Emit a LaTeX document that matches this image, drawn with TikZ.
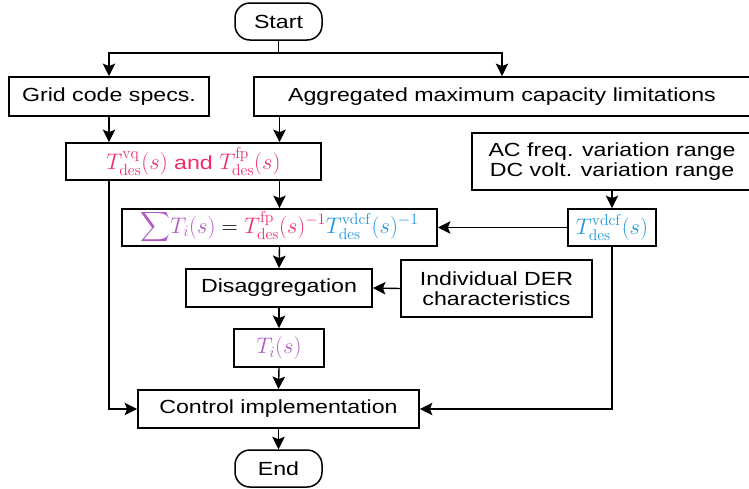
\RequirePackage{fix-cm}
\documentclass[tikz,border=0pt]{standalone}
\usepackage{exscale}
\usepackage[no-math]{fontspec}
\usepackage{graphicx}
\setmainfont{Liberation Sans}
\usetikzlibrary{arrows.meta}
\definecolor{pinkc}{RGB}{240,45,105}
\definecolor{purpc}{RGB}{176,90,200}
\definecolor{bluec}{RGB}{30,150,222}
% labels are set slightly wide; formulas keep their own proportions
\newcommand{\wide}[1]{\scalebox{1.22}[1]{#1}}
\newcommand{\fm}[1]{{\fontsize{22.5}{26}\selectfont$#1$}}
\newcommand{\dsub}{\mathrm{des}}
\tikzset{
  box/.style={draw, line width=1.8pt, inner sep=0pt, align=center,
    font=\fontsize{19}{23}\selectfont},
  term/.style={box, line width=1.5pt, rounded corners=15pt},
  arr/.style={line width=1.4pt, -{Stealth[length=12.5pt,width=12.5pt,inset=2.5pt]}},
  ln/.style={line width=1.4pt}
}
\begin{document}
\begin{tikzpicture}[x=1pt, y=-1pt]
\useasboundingbox (0,0) rectangle (749,488);
\clip (0,0) rectangle (749,488);

\node[term, minimum width=87pt, minimum height=37pt] (start) at (278.5,21.5) {\wide{Start}};
\node[box, minimum width=200pt, minimum height=39pt] (grid) at (109,96.5) {\wide{Grid code specs.}};
\node[box, minimum width=496pt, minimum height=39pt] (agg) at (502,96.5) {\wide{Aggregated maximum capacity limitations}};
\node[box, minimum width=255pt, minimum height=37pt, text=pinkc] (tdes) at (193.5,161.5)
  {\fm{T^{\mathrm{vq}}_{\dsub}(s)}\wide{ and }\fm{T^{\mathrm{fp}}_{\dsub}(s)}};
\node[box, minimum width=280pt, minimum height=57pt] (ac) at (612,161.5)
  {\wide{AC freq. variation range}\\[-3pt]\wide{DC volt. variation range}};
\node[box, minimum width=315pt, minimum height=37pt] (sum) at (279.5,227.5)
  {\fm{{\color{purpc}{\displaystyle\sum} T_i(s)} = {\color{pinkc}T^{\mathrm{fp}}_{\dsub}(s)^{-1}}{\color{bluec}T^{\mathrm{vdcf}}_{\dsub}(s)^{-1}}}};
\node[box, minimum width=88pt, minimum height=37pt, text=bluec] (tvdcf) at (612,227.5)
  {\fm{T^{\mathrm{vdcf}}_{\dsub}(s)}};
\node[box, minimum width=186pt, minimum height=38pt] (disagg) at (279,288) {\wide{Disaggregation}};
\node[box, minimum width=191pt, minimum height=57pt] (der) at (496.5,288.5)
  {\wide{Individual DER}\\[-3pt]\wide{characteristics}};
\node[box, minimum width=90pt, minimum height=38pt, text=purpc] (ti) at (279,348) {\fm{T_i(s)}};
\node[box, minimum width=281pt, minimum height=38pt] (ctrl) at (278.5,409) {\wide{Control implementation}};
\node[term, minimum width=87pt, minimum height=37pt] (end) at (278.5,468.5) {\wide{End}};

% split below the start terminal
\coordinate (split) at (278.5,53);
\draw[ln] (start.south) -- (split);
\draw[arr] (split) -| (grid.north);
\draw[arr] (split) -| (agg.north);

\draw[arr] (grid.south) -- (grid.south |- tdes.north);
\draw[arr] (agg.south -| sum.north) -- (tdes.north -| sum.north);
\draw[arr] (tdes.south -| sum.north) -- (sum.north);
\draw[arr] (tdes.south -| grid.south) |- (ctrl.west);

\draw[arr] (ac.south) -- (tvdcf.north);
\draw[arr] (tvdcf.west) -- (sum.east);
\draw[arr] (tvdcf.south) |- (ctrl.east);

\draw[arr] (sum.south) -- (disagg.north);
\draw[arr] (der.west) -- (disagg.east);
\draw[arr] (disagg.south) -- (ti.north);
\draw[arr] (ti.south) -- (ctrl.north);
\draw[arr] (ctrl.south) -- (end.north);
\end{tikzpicture}
\end{document}
